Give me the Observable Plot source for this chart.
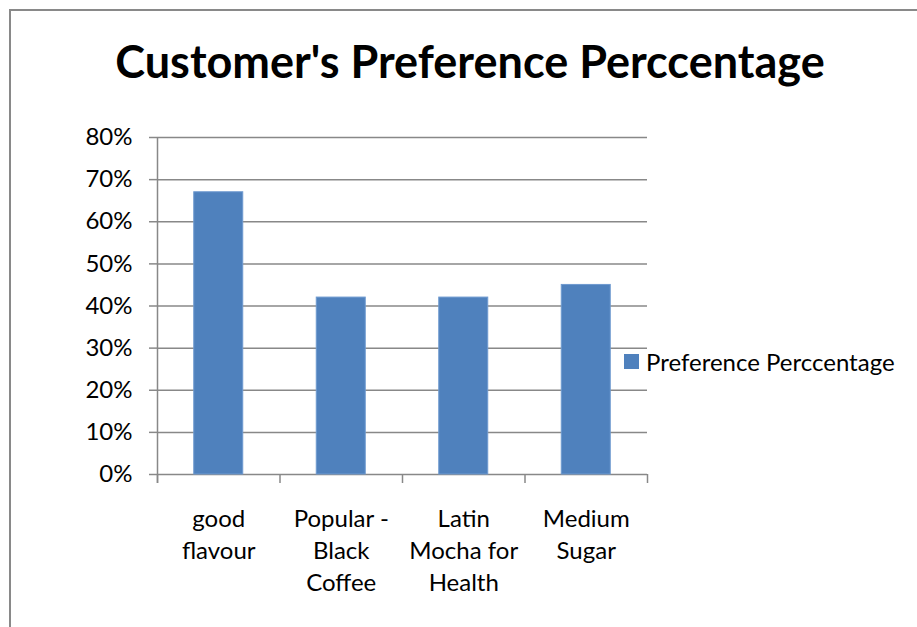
<!DOCTYPE html>
<html>
<head>
<meta charset="utf-8">
<script src="https://cdn.jsdelivr.net/npm/d3@7"></script>
<script src="https://cdn.jsdelivr.net/npm/@observablehq/plot@0.6"></script>
<style>
  html, body { margin: 0; padding: 0; background: #fff; }
  #wrap { position: relative; width: 917px; height: 627px; overflow: hidden; font-family: Lato, "Open Sans", sans-serif; }
  #border { position: absolute; left: 9px; top: 9px; width: 1000px; height: 1000px; border-top: 2px solid #898989; border-left: 2px solid #898989; }
  #title { position: absolute; left: 0; width: 940px; top: 30px; text-align: center; font-weight: bold; font-size: 45px; line-height: 62px; color: #000; }
  #legend { position: absolute; left: 624px; top: 347px; display: flex; align-items: center; font-size: 24px; color: #000; white-space: nowrap; }
  #legend .sw { width: 15px; height: 15px; background: #4f81bd; margin-right: 7px; }
  #chart { position: absolute; left: 0; top: 0; }
</style>
</head>
<body>
<div id="wrap">
  <div id="border"></div>
  <div id="chart"></div>
  <div id="title"></div>
  <div id="legend"><div class="sw"></div><span id="legendText"></span></div>
</div>
<script>
const titleText = "Customer's Preference Perccentage";
const seriesName = "Preference Perccentage";
const categories = ["good\nflavour", "Popular -\nBlack\nCoffee", "Latin\nMocha for\nHealth", "Medium\nSugar"];
const values = [0.67, 0.42, 0.42, 0.45];
const yTicks = [0, 0.1, 0.2, 0.3, 0.4, 0.5, 0.6, 0.7, 0.8];

document.getElementById("title").textContent = titleText;
document.getElementById("legendText").textContent = seriesName;

const data = categories.map((c, i) => ({label: c, value: values[i], i}));
const gridColor = "#888888";

const chart = Plot.plot({
  width: 917,
  height: 627,
  marginLeft: 157,
  marginRight: 270,
  marginTop: 137,
  marginBottom: 153,
  style: {fontFamily: "Lato, 'Open Sans', sans-serif", fontSize: "24px", color: "#000", background: "transparent"},
  x: {type: "linear", domain: [0, categories.length]},
  y: {type: "linear", domain: [0, 0.8]},
  marks: [
    Plot.gridY(yTicks, {stroke: gridColor, strokeOpacity: 1, strokeWidth: 1.5}),
    Plot.axisY({ticks: yTicks, tickFormat: d3.format(".0%"), tickSize: 8, tickPadding: 17, stroke: gridColor, strokeWidth: 1.5, fill: "#000", fontSize: 24, label: null}),
    Plot.rectY(data, {x1: d => d.i + 0.3, x2: d => d.i + 0.7, y1: 0, y2: "value", fill: "#4f81bd", stroke: "#6f9ad0", strokeWidth: 1}),
    Plot.ruleX([0], {stroke: gridColor, strokeWidth: 1.5, insetBottom: -9}),
    Plot.axisX({ticks: d3.range(categories.length + 1), tickFormat: () => "", tickSize: 9, stroke: gridColor, strokeWidth: 1.5, label: null}),
    Plot.text(data, {x: d => d.i + 0.5, y: 0, text: "label", lineAnchor: "top", dy: 30, fontSize: 24, lineHeight: 1.33, fill: "#000"})
  ]
});
document.getElementById("chart").appendChild(chart);
</script>
</body>
</html>
